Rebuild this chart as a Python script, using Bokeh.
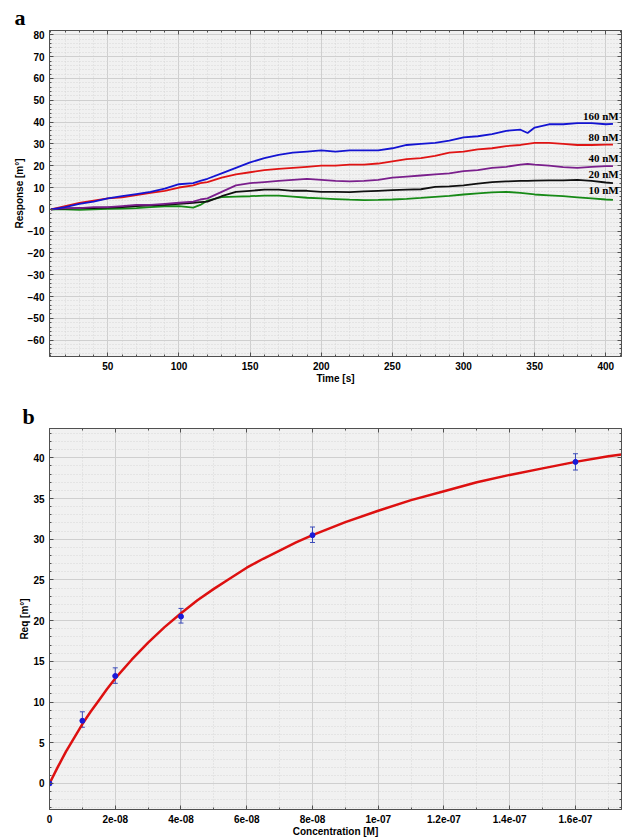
from bokeh.plotting import figure
from bokeh.layouts import column
from bokeh.models import (SingleIntervalTicker, FixedTicker, LinearAxis, Label, Whisker,
                          TeeHead, ColumnDataSource, CustomJSTickFormatter, Range1d, Title)
from bokeh.embed import file_html
from bokeh.resources import INLINE

# ---------------- data: panel a (sensorgrams) ----------------
time_s = [10, 20, 30, 40, 50, 60, 70, 80, 90, 100, 110, 115, 120, 130, 140, 150, 160, 170,
          180, 190, 200, 210, 220, 230, 240, 250, 260, 270, 280, 290, 300, 310, 320, 330,
          340, 345, 350, 360, 370, 380, 390, 400, 405]
resp_160 = [0, 1, 2.5, 3.5, 5, 6, 7, 8, 9.5, 11.5, 12, 13, 14, 16.5, 19, 21.5, 23.5, 25, 26,
            26.5, 27, 26.5, 27, 27, 27, 28, 29.5, 30, 30.5, 31.5, 33, 33.5, 34.5, 36, 36.5,
            35, 37.5, 39, 39, 39.5, 39.5, 39, 39.2]
resp_80 = [0, 1.5, 3, 4, 5, 5.5, 6.5, 7.5, 8.5, 10, 11, 12, 12.5, 14.5, 16, 17, 18, 18.5, 19,
           19.5, 20, 20, 20.5, 20.5, 21, 22, 23, 23.5, 24.5, 26, 26.5, 27.5, 28, 29, 29.5,
           30, 30.5, 30.5, 30, 29.5, 29.5, 29.7, 29.7]
resp_40 = [0, 0.5, 0.5, 1, 1, 1.5, 2, 2, 2.5, 3, 3.5, 4.5, 5, 8, 11, 12, 12.5, 13, 13.5, 14,
           13.5, 13, 12.8, 13, 13.5, 14.5, 15, 15.5, 16, 16.5, 17.5, 18, 19, 19.5, 20.5,
           20.8, 20.5, 20, 19.3, 19, 19.5, 19.8, 19.8]
resp_20 = [0, 0.3, 0.5, 0.6, 0.8, 1, 1.5, 1.8, 2, 2.5, 3, 3.3, 3.5, 6, 8, 8.5, 9, 9, 8.5, 8.5,
           8, 8, 7.9, 8.2, 8.5, 8.8, 9, 9.2, 10.3, 10.5, 11, 11.8, 12.5, 12.8, 13, 13, 13.2,
           13.3, 13.3, 13.5, 13, 12.3, 12]
resp_10 = [0, 0, -0.3, 0, 0.2, 0.3, 0.5, 1, 1.4, 1.5, 0.8, 2, 4, 5.6, 5.8, 6, 6.3, 6.3, 5.8,
           5.3, 5, 4.7, 4.4, 4.2, 4.3, 4.5, 4.8, 5.2, 5.7, 6.2, 6.8, 7.3, 7.8, 8, 7.5, 7.2,
           6.8, 6.4, 6, 5.5, 5, 4.5, 4.3]
series_names = ["160 nM", "80 nM", "40 nM", "20 nM", "10 nM"]

# ---------------- data: panel b (equilibrium response) ----------------
conc_M = [0, 1e-8, 2e-8, 4e-8, 8e-8, 1.6e-7]
req = [0, 7.7, 13.2, 20.5, 30.5, 39.5]
req_lo = [0, 6.9, 12.3, 19.7, 29.6, 38.5]
req_hi = [0, 8.8, 14.2, 21.5, 31.5, 40.5]
fit_conc = [0, 0.25e-8, 0.5e-8, 0.75e-8, 1e-8, 1.25e-8, 1.5e-8, 1.75e-8, 2e-8, 2.5e-8, 3e-8,
            3.5e-8, 4e-8, 4.5e-8, 5e-8, 5.5e-8, 6e-8, 6.5e-8, 7e-8, 7.5e-8, 8e-8, 9e-8,
            1e-7, 1.1e-7, 1.2e-7, 1.3e-7, 1.4e-7, 1.5e-7, 1.6e-7, 1.7e-7, 1.74e-7]
fit_req = [0, 2.0, 3.9, 5.6, 7.3, 8.8, 10.2, 11.6, 12.9, 15.2, 17.3, 19.2, 20.9, 22.5, 23.9,
           25.2, 26.5, 27.6, 28.6, 29.6, 30.5, 32.1, 33.5, 34.8, 35.9, 37.0, 37.9, 38.7,
           39.5, 40.2, 40.4]
conc_ticks = [0, 2e-8, 4e-8, 6e-8, 8e-8, 1e-7, 1.2e-7, 1.4e-7, 1.6e-7]
conc_minor = [1e-8, 3e-8, 5e-8, 7e-8, 9e-8, 1.1e-7, 1.3e-7, 1.5e-7, 1.7e-7]

# ---------------- styles ----------------
SANS = "Liberation Sans"
SERIF = "Liberation Serif"
colors = ["#1414d2", "#e01414", "#7a1f8c", "#101010", "#168a16"]
label_y = [42.9, 33.3, 23.7, 16.4, 8.7]


def style(p):
    p.background_fill_color = "#f1f1f1"
    p.border_fill_color = "white"
    p.outline_line_color = "#5a5a5a"
    p.outline_line_width = 1
    p.grid.grid_line_color = "#cfcfcf"
    p.grid.grid_line_width = 1
    p.grid.minor_grid_line_color = "#d6d6d6"
    p.grid.minor_grid_line_dash = "1 2"
    for ax in p.axis:
        ax.axis_line_color = "#505050"
        ax.major_tick_in = 4
        ax.major_tick_out = 0
        ax.minor_tick_in = 2
        ax.minor_tick_out = 0
        ax.major_tick_line_color = "#505050"
        ax.minor_tick_line_color = "#505050"
        ax.major_label_text_font = SANS
        ax.major_label_text_font_style = "bold"
        ax.major_label_text_font_size = "10px"
        ax.major_label_text_color = "black"
        ax.major_label_standoff = 5
        ax.axis_label_text_font = SANS
        ax.axis_label_text_font_style = "bold"
        ax.axis_label_text_font_size = "10px"
        ax.axis_label_text_color = "black"
        ax.axis_label_standoff = 0


def add_mirror(p, xticker, yticker):
    top = LinearAxis(ticker=xticker, formatter=CustomJSTickFormatter(code="return '';"))
    right = LinearAxis(ticker=yticker, formatter=CustomJSTickFormatter(code="return '';"))
    p.add_layout(top, "above")
    p.add_layout(right, "right")
    return top, right


def panel_title(letter, offset, standoff):
    return Title(text=letter, align="left", offset=offset, standoff=standoff,
                 text_font=SERIF, text_font_style="bold", text_font_size="22px",
                 text_color="black")


# ---------------- panel a ----------------
p1 = figure(width=624, height=395, output_backend="svg", toolbar_location=None,
            x_range=Range1d(9, 411), y_range=Range1d(-67.5, 82),
            title=panel_title("a", -35, 2),
            min_border_left=49, min_border_top=30, min_border_right=3, min_border_bottom=39)
xt1 = SingleIntervalTicker(interval=50, num_minor_ticks=5)
yt1 = SingleIntervalTicker(interval=10, num_minor_ticks=5)
p1.xaxis.ticker = xt1
p1.yaxis.ticker = yt1
p1.xgrid.ticker = xt1
p1.ygrid.ticker = yt1
p1.xaxis.axis_label = "Time [s]"
p1.yaxis.axis_label = "Response [m°]"
m1 = add_mirror(p1, xt1, yt1)
style(p1)
for ax in m1:
    ax.major_label_standoff = 0

all_series = [resp_160, resp_80, resp_40, resp_20, resp_10]
for ys, c in zip(reversed(all_series), reversed(colors)):
    p1.line(time_s, ys, line_color=c, line_width=1.8)

for name, ly in zip(series_names, label_y):
    p1.add_layout(Label(x=409, y=ly, text=name, text_align="right", text_baseline="middle",
                        text_font=SERIF, text_font_style="bold", text_font_size="11px",
                        text_color="black"))

# ---------------- panel b ----------------
p2 = figure(width=624, height=444, output_backend="svg", toolbar_location=None,
            x_range=Range1d(0, 1.74e-7), y_range=Range1d(-3.2, 43.6),
            title=panel_title("b", -27, -1),
            min_border_left=47, min_border_top=33, min_border_right=2, min_border_bottom=27)
xt2 = FixedTicker(ticks=conc_ticks, minor_ticks=conc_minor)
yt2 = SingleIntervalTicker(interval=5, num_minor_ticks=5)
p2.xaxis.ticker = xt2
p2.yaxis.ticker = yt2
p2.xgrid.ticker = xt2
p2.ygrid.ticker = yt2
p2.xaxis.formatter = CustomJSTickFormatter(code="""
if (tick == 0) { return "0"; }
var s = Number(tick.toPrecision(4)).toExponential();
return s.replace(/e([+-])(\\d)$/, function(m, a, b) { return "e" + a + "0" + b; });
""")
p2.xaxis.axis_label = "Concentration [M]"
p2.yaxis.axis_label = "Req [m°]"
m2 = add_mirror(p2, xt2, yt2)
style(p2)
for ax in m2:
    ax.major_label_standoff = 0
p2.xaxis[0].major_label_standoff = 4

p2.line(fit_conc, fit_req, line_color="#dd1010", line_width=2.5)

err_src = ColumnDataSource(data=dict(x=conc_M[1:], lo=req_lo[1:], hi=req_hi[1:]))
p2.add_layout(Whisker(source=err_src, base="x", lower="lo", upper="hi",
                      line_color="#3a4ab8", line_width=1,
                      upper_head=TeeHead(size=5, line_color="#3a4ab8", line_width=1),
                      lower_head=TeeHead(size=5, line_color="#3a4ab8", line_width=1)))
p2.scatter(conc_M, req, marker="circle", size=5, fill_color="#1a1ad8", line_color="#1a1ad8")

layout = column(p1, p2, spacing=0)
open("out.html", "w").write(file_html(layout, INLINE))
